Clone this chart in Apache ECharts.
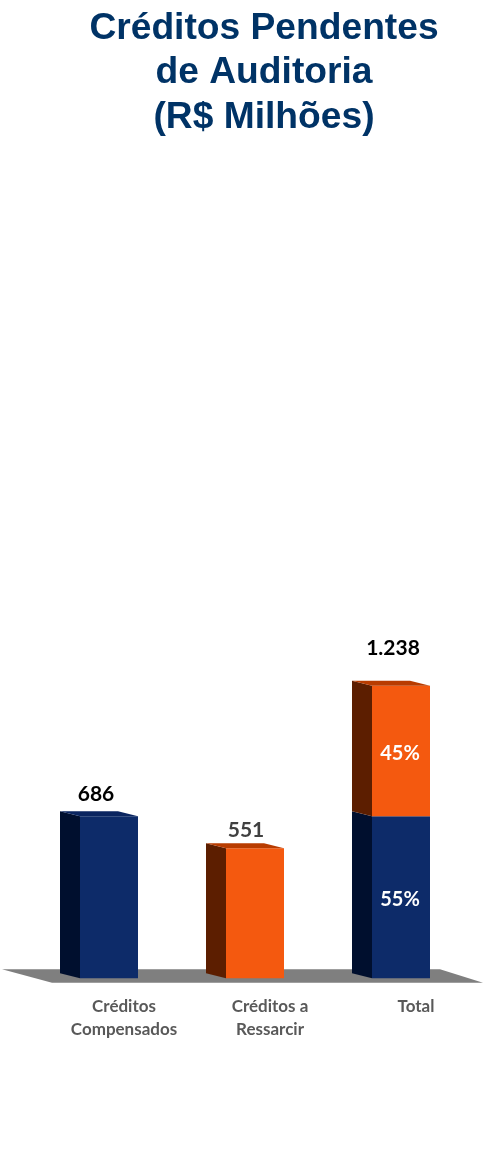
<!DOCTYPE html>
<html>
<head>
<meta charset="utf-8">
<style>html,body{margin:0;padding:0;background:#fff}#c{width:483px;height:1173px}</style>
<script src="https://cdn.jsdelivr.net/npm/echarts@6/dist/echarts.min.js"></script>
</head>
<body>
<div id="c"></div>
<script>
const categories = ['Créditos\nCompensados', 'Créditos a\nRessarcir', 'Total'];
const compensados = [686, 0, 686];
const ressarcir = [0, 551, 552];
const totalLabels = ['686', '551', '1.238'];
const compensadosPct = ['', '', '55%'];
const ressarcirPct = ['', '', '45%'];

const DX = 20, DY = 5, FRONT = 58;
const totalStyle = [
  {dx: -13, dy: -22, color: '#000000', weight: 700},
  {dx: -9, dy: -18, color: '#404040', weight: 700},
  {dx: -8, dy: -38, color: '#000000', weight: 700}
];
const BLUE = {front: '#0D2B69', side: '#000F2E', top: '#0A2560'};
const ORANGE = {front: '#F4590F', side: '#5C1E00', top: '#B83C00'};

function poly(points, fill, z2) {
  return {type: 'polygon', z2, shape: {points}, style: {fill}, silent: true};
}
function segment(colors, labels) {
  return function (params, api) {
    const i = api.value(0), base = api.value(1), val = api.value(2);
    if (!val) return {type: 'group', children: []};
    const c = api.coord([i, base]), t = api.coord([i, base + val]);
    const x0 = c[0] - FRONT / 2, x1 = x0 + FRONT, yb = c[1], yt = t[1];
    const kids = [
      poly([[x0, yb], [x0 - DX, yb - DY], [x0 - DX, yt - DY], [x0, yt]], colors.side, 1),
      poly([[x0, yb], [x1, yb], [x1, yt], [x0, yt]], colors.front, 2)
    ];
    if (api.value(3) === 1) {
      kids.push(poly([[x0, yt], [x0 - DX, yt - DY], [x1 - DX, yt - DY], [x1, yt]], colors.top, 2));
      const s = totalStyle[i];
      kids.push({type: 'text', z2: 5, x: c[0] + s.dx, y: yt + s.dy, silent: true,
        style: {text: totalLabels[i], fill: s.color, fontFamily: 'Lato', fontWeight: s.weight, fontSize: 21,
          align: 'center', verticalAlign: 'middle'}});
    }
    if (labels[i]) {
      kids.push({type: 'text', z2: 5, x: c[0] - 1, y: (yb + yt) / 2 + 2, silent: true,
        style: {text: labels[i], fill: '#FFFFFF', fontFamily: 'Lato', fontWeight: 700, fontSize: 20,
          align: 'center', verticalAlign: 'middle'}});
    }
    return {type: 'group', children: kids};
  };
}
function rows(values, bases) {
  return values.map((v, i) => {
    const b = bases ? bases[i] : 0;
    const isTop = bases ? v > 0 : (v > 0 && !ressarcir[i]);
    return [i, b, v, isTop ? 1 : 0];
  });
}

const chart = echarts.init(document.getElementById('c'), null, {renderer: 'canvas'});
chart.setOption({
  animation: false,
  backgroundColor: '#fff',
  title: {
    text: 'Créditos Pendentes\nde Auditoria\n(R$ Milhões)',
    left: 259, top: 1, textAlign: 'center',
    textStyle: {fontFamily: 'Liberation Sans', fontWeight: 700, fontSize: 37.2, lineHeight: 44.5, color: '#003366'}
  },
  grid: {left: 36, width: 438, top: 647.6, height: 330.7},
  xAxis: {
    type: 'category', data: categories,
    axisLine: {show: false}, axisTick: {show: false},
    axisLabel: {
      interval: 0, margin: 17, padding: [0, 0, 0, 30],
      fontFamily: 'Lato', fontWeight: 700, fontSize: 17, lineHeight: 23, color: '#595959'
    }
  },
  yAxis: {type: 'value', min: 0, max: 1400, show: false, splitLine: {show: false}},
  series: [
    {
      type: 'custom', name: 'Base', z: 1, silent: true, clip: false,
      data: [[0]], encode: {x: 0},
      renderItem: function (params, api) {
        const y0 = api.coord([0, 0])[1];
        const L = params.coordSys.x, R = L + params.coordSys.width;
        return poly([[L - 34, y0 - 9], [R - 34, y0 - 9], [R + 9, y0 + 4.5], [L + 16, y0 + 4.5]], '#7F7F7F', 0);
      }
    },
    {
      type: 'custom', name: 'Créditos Compensados', z: 2, clip: false,
      data: rows(compensados), encode: {x: 0, y: 2},
      renderItem: segment(BLUE, compensadosPct)
    },
    {
      type: 'custom', name: 'Créditos a Ressarcir', z: 3, clip: false,
      data: rows(ressarcir, compensados.map((v, i) => ressarcir[i] ? (i === 2 ? v : 0) : 0)), encode: {x: 0, y: 2},
      renderItem: segment(ORANGE, ressarcirPct)
    }
  ]
});
</script>
</body>
</html>
